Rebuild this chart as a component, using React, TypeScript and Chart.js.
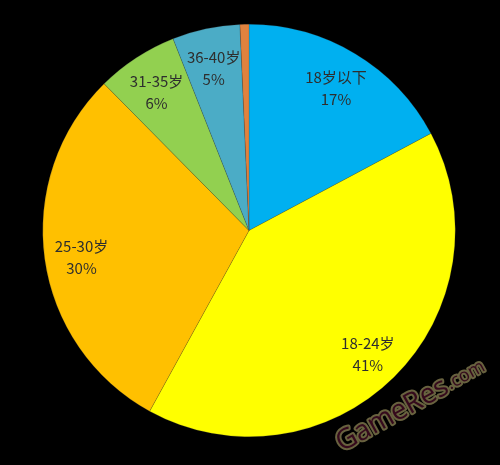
import { useEffect, useRef } from "react";
import Chart from "chart.js/auto";

// age groups, clockwise from 12 o'clock
const ageGroups = ["18岁以下", "18-24岁", "25-30岁", "31-35岁", "36-40岁", "40岁以上"];
const shares = [17.2, 40.8, 29.6, 6.4, 5.3, 0.7];
const sliceColors = ["#00B0F0", "#FFFF00", "#FFC000", "#92D050", "#4BACC6", "#E0823E"];
const watermark = "GameRes";
const watermarkTail = ".com";

const sliceLabels = {
  id: "sliceLabels",
  afterDatasetsDraw(chart: any) {
    const ctx = chart.ctx;
    const meta = chart.getDatasetMeta(0);
    ctx.save();
    ctx.fillStyle = "#2e2e2e";
    ctx.font = '15px "Noto Sans CJK SC", "Noto Sans", sans-serif';
    ctx.textAlign = "center";
    ctx.textBaseline = "middle";
    meta.data.forEach((arc: any, i: number) => {
      const v = shares[i];
      if (v < 1) return;
      const p = arc.getProps(["x", "y", "startAngle", "endAngle", "outerRadius"], true);
      const mid = (p.startAngle + p.endAngle) / 2;
      const r = p.outerRadius * 0.82;
      const cx = p.x + Math.cos(mid) * r;
      const cy = p.y + Math.sin(mid) * r + 3;
      ctx.fillText(ageGroups[i], cx, cy - 11);
      ctx.fillText(Math.round(v) + "%", cx, cy + 11);
    });
    ctx.restore();
  },
};

const stamp = {
  id: "stamp",
  afterDraw(chart: any) {
    const ctx = chart.ctx;
    ctx.save();
    ctx.translate(342, 452);
    ctx.rotate(-29 * Math.PI / 180);
    ctx.lineJoin = "round";
    ctx.textBaseline = "alphabetic";
    ctx.textAlign = "left";
    ctx.font = '28px "Open Sans", "DejaVu Sans", sans-serif';
    ctx.strokeStyle = "#68623f";
    ctx.lineWidth = 4;
    ctx.fillStyle = "#35091c";
    ctx.strokeText(watermark, 0, 0);
    ctx.fillText(watermark, 0, 0);
    const w = ctx.measureText(watermark).width;
    ctx.font = '18px "Open Sans", "DejaVu Sans", sans-serif';
    ctx.strokeText(watermarkTail, w + 1, -2);
    ctx.fillText(watermarkTail, w + 1, -2);
    ctx.restore();
  },
};

export default function App() {
  const ref = useRef<HTMLCanvasElement>(null);

  useEffect(() => {
    let chart: Chart | undefined;
    if (ref.current) {
      chart = new Chart(ref.current, {
        type: "pie",
        data: {
          labels: ageGroups,
          datasets: [
            {
              data: shares,
              backgroundColor: sliceColors,
              borderWidth: 0.5,
              borderColor: "rgba(60,60,60,0.4)",
            },
          ],
        },
        options: {
          animation: false,
          responsive: false,
          layout: { padding: { top: 24, bottom: 28, left: 42, right: 44 } },
          plugins: {
            legend: { display: false },
            tooltip: { enabled: false },
          },
        },
        plugins: [sliceLabels, stamp],
      });
    }
    return () => {
      chart?.destroy();
    };
  }, []);

  return (
    <div
      style={{
        position: "fixed",
        left: 0,
        top: 0,
        width: 500,
        height: 465,
        background: "#000",
      }}
    >
      <canvas ref={ref} width={500} height={465} style={{ display: "block" }} />
    </div>
  );
}
